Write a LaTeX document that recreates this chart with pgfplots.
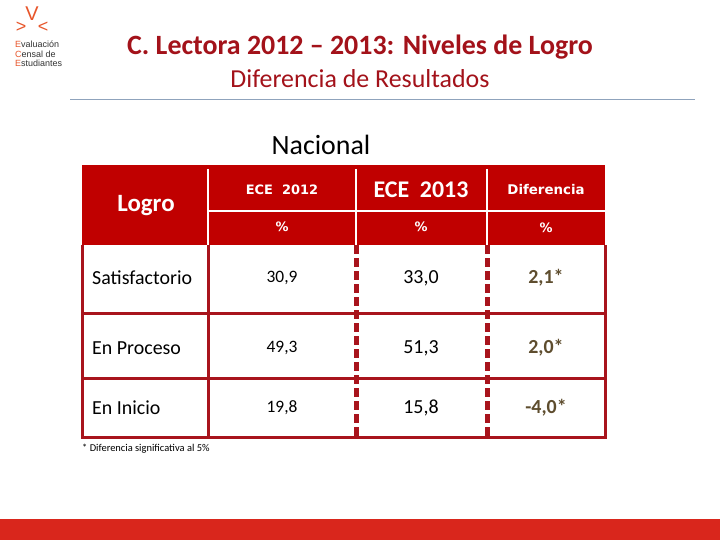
\documentclass[border=0pt]{standalone}
\usepackage{pgfplots}
\pgfplotsset{compat=1.18}
\usepackage{fontspec}
\setmainfont{Carlito}
\newfontfamily\dejavu{DejaVu Sans}
\newfontfamily\lsans{Liberation Sans}
\definecolor{titlered}{HTML}{A3121A}
\definecolor{hdrred}{HTML}{C00000}
\definecolor{bordred}{HTML}{A8141C}
\definecolor{diffc}{HTML}{5E4D2E}
\definecolor{barred}{HTML}{D9261C}
\definecolor{logoc}{HTML}{E8552A}
\definecolor{rulec}{HTML}{8FA3BC}
\begin{document}
\begin{tikzpicture}
\begin{axis}[scale only axis, width=720bp, height=540bp,
  xmin=0, xmax=720, ymin=0, ymax=540, y dir=reverse,
  axis lines=none, clip=false]
% background
\fill[white] (axis cs:0,0) rectangle (axis cs:720,540);
% logo
\node[text=logoc, font=\lsans\fontsize{20}{20}\selectfont] at (axis cs:32,14) {V};
\node[text=logoc, font=\lsans\fontsize{18}{18}\selectfont] at (axis cs:21,27) {>};
\node[text=logoc, font=\lsans\fontsize{18}{18}\selectfont] at (axis cs:43,27) {<};
\node[anchor=west, inner sep=0pt, text=black!80, font=\lsans\fontsize{9}{9}\selectfont] at (axis cs:15,44) {\textcolor{logoc}{E}valuación};
\node[anchor=west, inner sep=0pt, text=black!80, font=\lsans\fontsize{9}{9}\selectfont] at (axis cs:15,54) {\textcolor{logoc}{C}ensal de};
\node[anchor=west, inner sep=0pt, text=black!80, font=\lsans\fontsize{9}{9}\selectfont] at (axis cs:15,63) {\textcolor{logoc}{E}studiantes};
% titles
\node[text=titlered, font=\bfseries\fontsize{28}{28}\selectfont] at (axis cs:360,47) {C. Lectora 2012 – 2013: Niveles de Logro};
\node[text=titlered, font=\fontsize{26}{26}\selectfont] at (axis cs:360,79) {Diferencia de Resultados};
\draw[rulec, line width=0.8bp] (axis cs:70,99) -- (axis cs:695,99);
\node[font=\fontsize{28}{28}\selectfont] at (axis cs:321,145) {Nacional};
% header
\fill[hdrred] (axis cs:82,165) rectangle (axis cs:605,245);
\draw[white, line width=2.5bp] (axis cs:208,169) -- (axis cs:208,245);
\draw[white, line width=2.5bp] (axis cs:356,169) -- (axis cs:356,245);
\draw[white, line width=2.5bp] (axis cs:487,169) -- (axis cs:487,245);
\draw[white, line width=2.5bp] (axis cs:208,211) -- (axis cs:605,211);
\node[text=white, font=\bfseries\fontsize{25}{25}\selectfont] at (axis cs:146,206) {Logro};
\node[text=white, font=\dejavu\bfseries\fontsize{13}{13}\selectfont] at (axis cs:282,190) {ECE\ \ 2012};
\node[text=white, font=\bfseries\fontsize{24}{24}\selectfont] at (axis cs:421,190) {ECE\ \ 2013};
\node[text=white, font=\dejavu\bfseries\fontsize{13.4}{13.4}\selectfont] at (axis cs:546,190) {Diferencia};
\node[text=white, font=\dejavu\bfseries\fontsize{13}{13}\selectfont] at (axis cs:282,227) {\%};
\node[text=white, font=\dejavu\bfseries\fontsize{13}{13}\selectfont] at (axis cs:421,227) {\%};
\node[text=white, font=\dejavu\bfseries\fontsize{13}{13}\selectfont] at (axis cs:546,228) {\%};
% body grid
\draw[bordred, line width=3bp] (axis cs:82,313) -- (axis cs:605,313);
\draw[bordred, line width=3bp] (axis cs:82,378) -- (axis cs:605,378);
\draw[bordred, line width=3bp] (axis cs:208,245) -- (axis cs:208,437);
\draw[bordred, line width=5bp, dash pattern=on 9bp off 4bp] (axis cs:356,245) -- (axis cs:356,437);
\draw[bordred, line width=5bp, dash pattern=on 9bp off 4bp] (axis cs:487,245) -- (axis cs:487,437);
\draw[bordred, line width=3bp] (axis cs:82,245) -- (axis cs:82,437) -- (axis cs:605,437) -- (axis cs:605,245);
% row labels
\addplot[draw=none, mark=none, point meta=explicit symbolic, nodes near coords,
  nodes near coords style={anchor=west, inner sep=0pt, font=\fontsize{20}{20}\selectfont, text=black}]
  table[meta=label] {
x y label
92 278 Satisfactorio
92 348 {En Proceso}
92 408 {En Inicio}
};
% ECE 2012
\addplot[draw=none, mark=none, point meta=explicit symbolic, nodes near coords,
  nodes near coords style={anchor=center, font=\fontsize{17.5}{17.5}\selectfont, text=black}]
  table[meta=label] {
x y label
282 278 30,9
282 348 49,3
282 408 19,8
};
% ECE 2013
\addplot[draw=none, mark=none, point meta=explicit symbolic, nodes near coords,
  nodes near coords style={anchor=center, font=\fontsize{20}{20}\selectfont, text=black}]
  table[meta=label] {
x y label
421 278 33,0
421 348 51,3
421 408 15,8
};
% Diferencia
\addplot[draw=none, mark=none, point meta=explicit symbolic, nodes near coords,
  nodes near coords style={anchor=center, font=\bfseries\fontsize{20}{20}\selectfont, text=diffc}]
  table[meta=label] {
x y label
546 278 2,1*
546 348 2,0*
546 408 -4,0*
};
% footnote
\node[anchor=west, inner sep=0pt, font=\fontsize{10.5}{10.5}\selectfont] at (axis cs:82,449) {* Diferencia significativa al 5\%};
% bottom bar
\fill[barred] (axis cs:0,519) rectangle (axis cs:720,540);
\end{axis}
\end{tikzpicture}
\end{document}
